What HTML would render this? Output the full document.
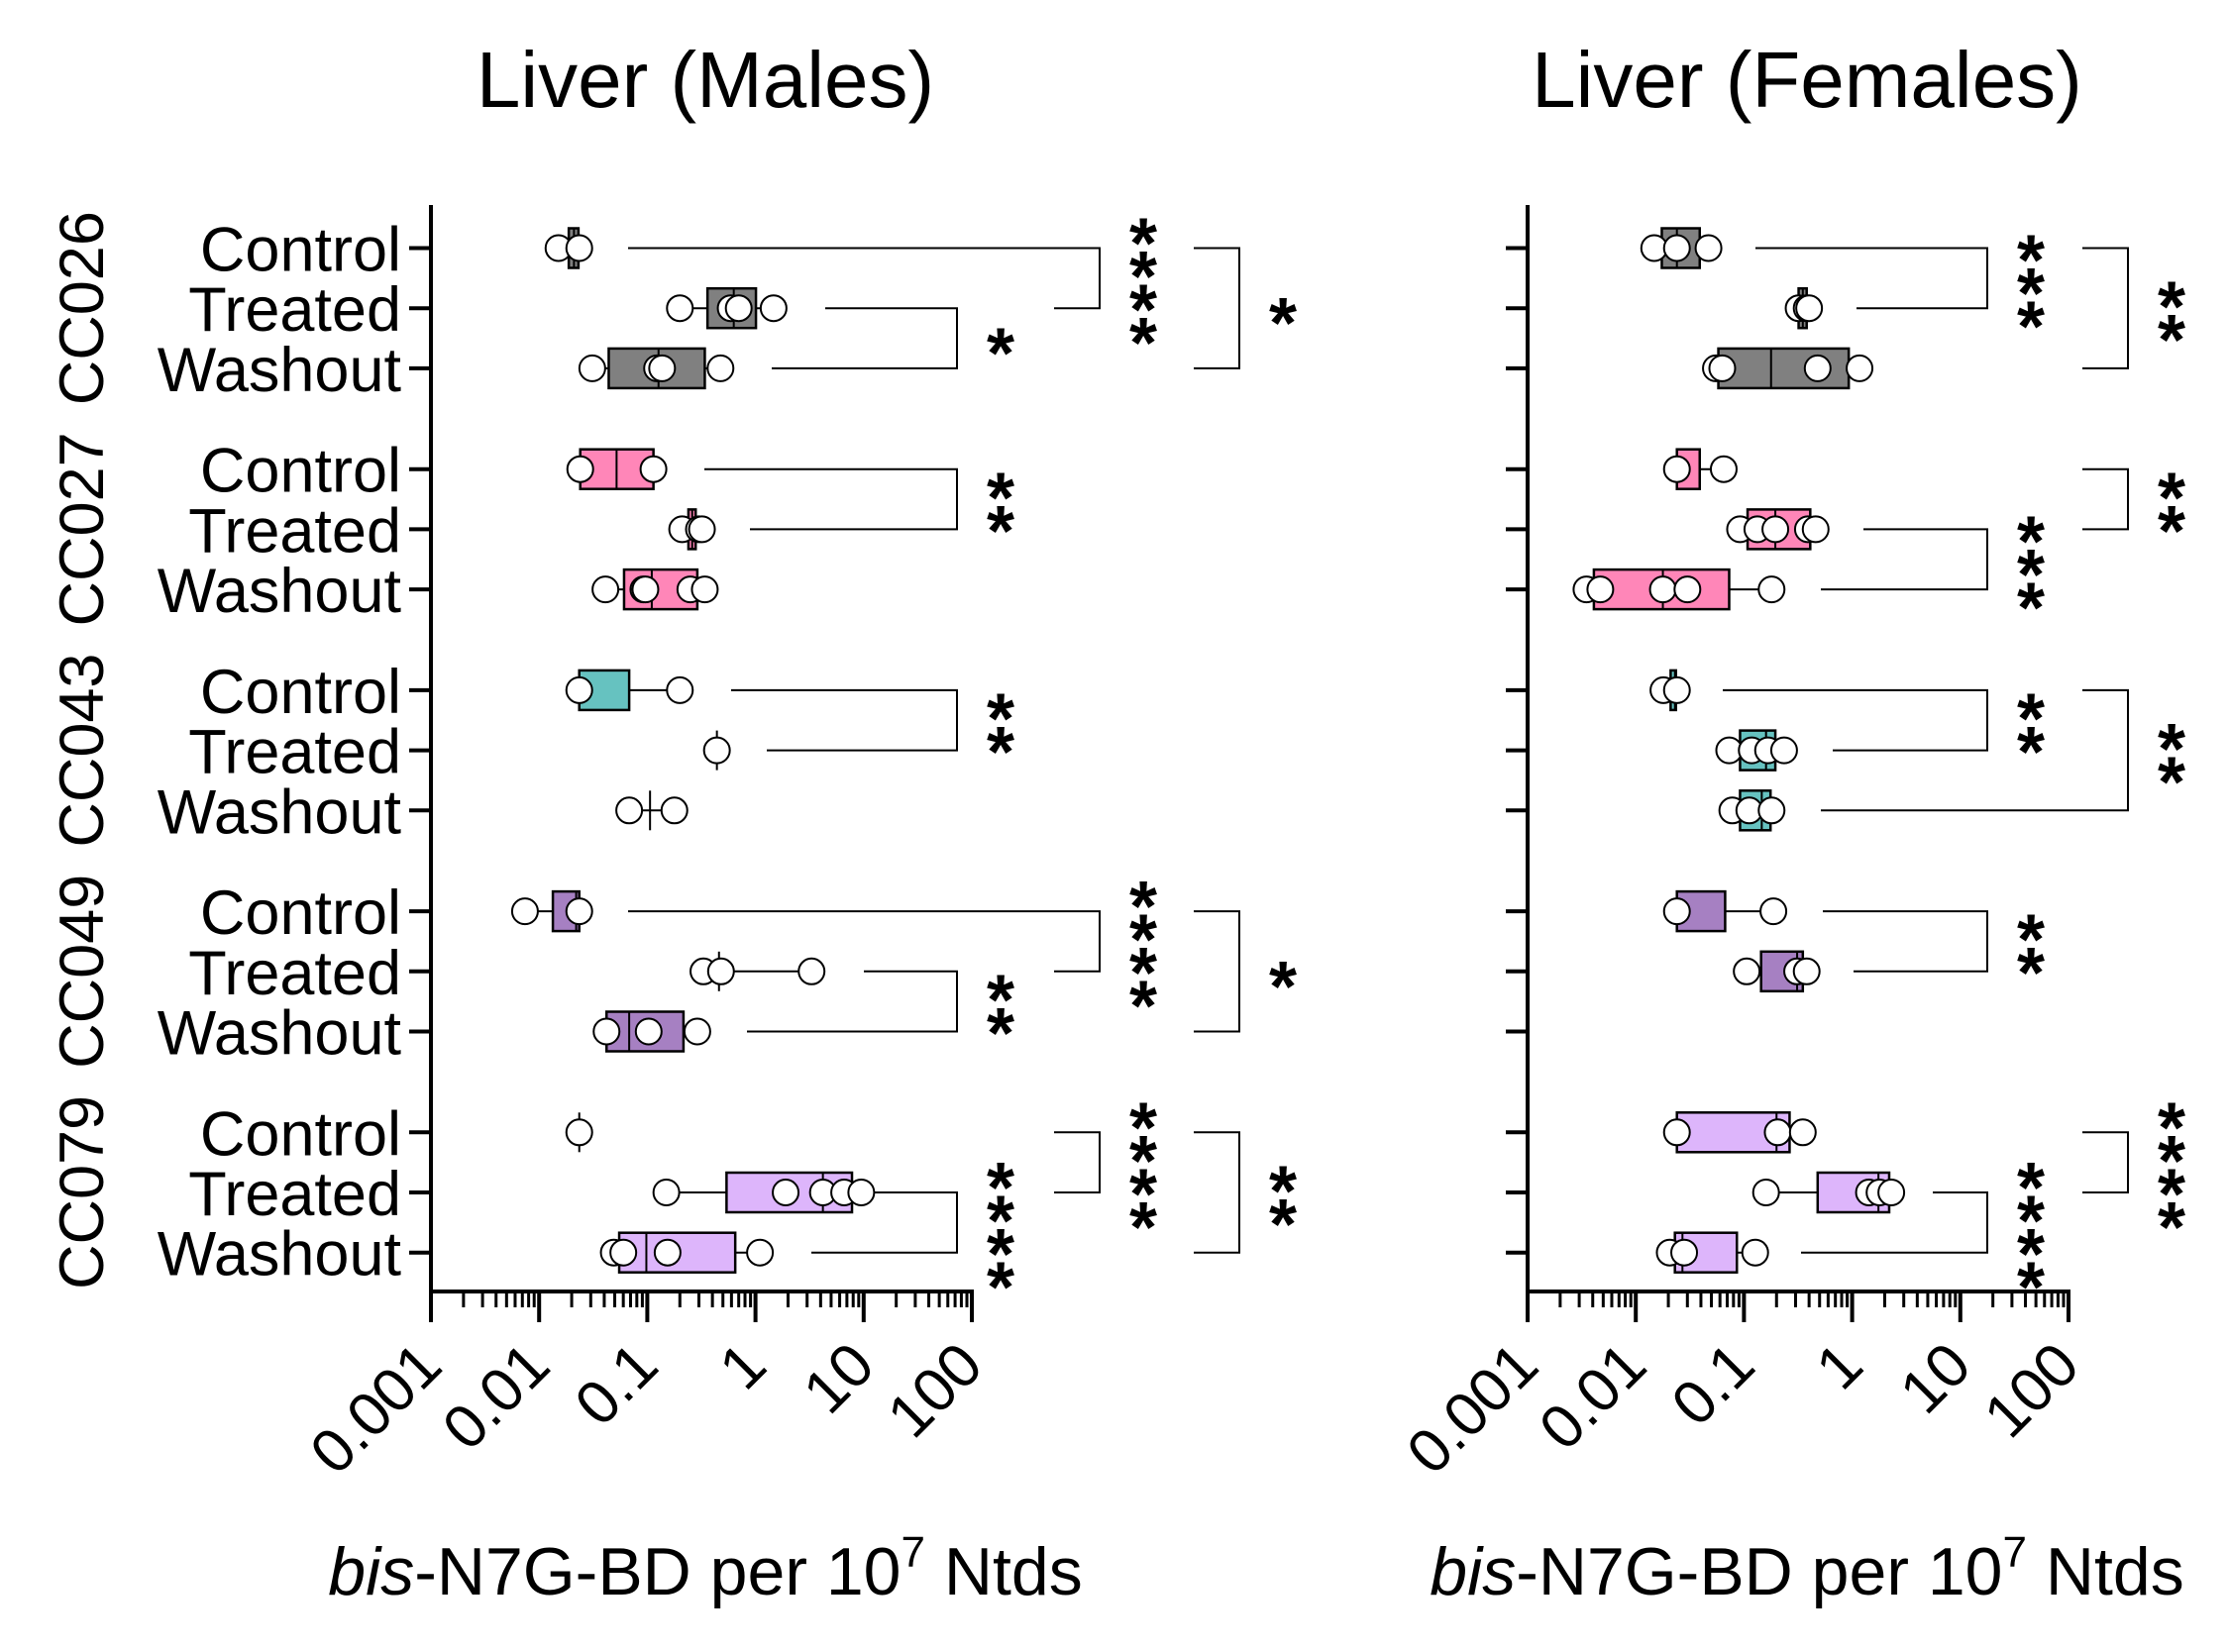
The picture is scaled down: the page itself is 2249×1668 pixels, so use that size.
<!DOCTYPE html>
<html><head><meta charset="utf-8"><style>
html,body{margin:0;padding:0;background:#fff;}
svg{display:block;}
text{font-family:"Liberation Sans",Arial,sans-serif;fill:#000;}
</style></head><body>
<svg id="chart" width="2249" height="1668" viewBox="0 0 2249 1668" xmlns="http://www.w3.org/2000/svg">
<rect width="2249" height="1668" fill="#fff"/>
<text x="712" y="108" font-size="80" text-anchor="middle">Liver (Males)</text>
<text x="1824" y="108" font-size="80" text-anchor="middle">Liver (Females)</text>
<text x="712" y="1610" font-size="68" text-anchor="middle"><tspan font-style="italic">bis</tspan>-N7G-BD per 10<tspan dy="-28" font-size="44">7</tspan><tspan dy="28"> Ntds</tspan></text>
<text x="1824" y="1610" font-size="68" text-anchor="middle"><tspan font-style="italic">bis</tspan>-N7G-BD per 10<tspan dy="-28" font-size="44">7</tspan><tspan dy="28"> Ntds</tspan></text>
<g id="layer"></g>
</svg>
<script>
const strains = ["CC026","CC027","CC043","CC049","CC079"];
const groups = ["Control","Treated","Washout"];
const colors = ["#808080","#ff86b8","#66c2c0","#a680c2","#ddb5fb"];
const tickValues = [0.001,0.01,0.1,1,10,100];
const tickLabels = ["0.001","0.01","0.1","1","10","100"];

const malesPoints = [
 [0.0151,0.0235],[0.2,0.59,0.70,1.47],[0.031,0.123,0.137,0.475],
 [0.024,0.114],[0.21,0.30,0.32],[0.041,0.092,0.096,0.25,0.34],
 [0.0235,0.2],[0.44],[0.068,0.178],
 [0.0074,0.0235],[0.33,0.48,3.3],[0.042,0.103,0.29],
 [0.0235],[0.15,1.9,4.2,6.6,9.5],[0.049,0.06,0.154,1.1]];
const malesQ1 = [0.0188,0.36,0.044, 0.024,0.24,0.061, 0.0235,0.44,0.106, 0.0134,0.46,0.042, 0.0235,0.54,0.055];
const malesMed = [0.021,0.63,0.127, 0.052,0.26,0.11, 0.0235,0.44,0.106, 0.022,0.46,0.068, 0.0235,4.2,0.098];
const malesQ3 = [0.0231,1.01,0.34, 0.114,0.28,0.29, 0.068,0.44,0.106, 0.0235,0.46,0.216, 0.0235,7.8,0.65];

const femalesPoints = [
 [0.0148,0.024,0.047],[0.32,0.38,0.40],[0.055,0.063,0.48,1.17],
 [0.024,0.065],[0.092,0.133,0.195,0.39,0.46],[0.0035,0.0047,0.0178,0.030,0.18],
 [0.018,0.024],[0.073,0.118,0.167,0.235],[0.078,0.112,0.18],
 [0.024,0.187],[0.106,0.31,0.38],[],
 [0.024,0.205,0.35],[0.16,1.43,1.79,2.3],[0.0206,0.028,0.127]];
const femalesQ1 = [0.0174,0.32,0.058, 0.024,0.108,0.0041, 0.021,0.092,0.092, 0.024,0.144,null, 0.024,0.48,0.023];
const femalesMed = [0.024,0.35,0.178, 0.024,0.195,0.0178, 0.023,0.16,0.146, 0.024,0.31,null, 0.2,1.75,0.027];
const femalesQ3 = [0.039,0.38,0.93, 0.039,0.41,0.073, 0.0235,0.195,0.176, 0.067,0.35,null, 0.264,2.2,0.086];

// significance brackets: [strain, rowA, rowB, label]
const malesSig = [[0,0,1,"****"],[0,1,2,"*"],[0,0,2,"*"],[1,0,1,"**"],[2,0,1,"**"],[3,0,1,"****"],[3,1,2,"**"],[3,0,2,"*"],[4,0,1,"****"],[4,1,2,"****"],[4,0,2,"**"]];
const femalesSig = [[0,0,1,"***"],[0,0,2,"**"],[1,0,1,"**"],[1,1,2,"***"],[2,0,1,"**"],[2,0,2,"**"],[3,0,1,"**"],[4,0,1,"****"],[4,1,2,"****"]];
// bracket layout (pixels): vertical x, left end for rowA, left end for rowB
const malesSigLayout = [[1110,634,1064],[966,833,779],[1251,1205,1205],[966,711,757],[966,738,774],[1110,634,1064],[966,872,754],[1251,1205,1205],[1110,1064,1064],[966,882,819],[1251,1205,1205]];
const femalesSigLayout = [[2006,1772,1874],[2148,2102,2102],[2148,2102,2102],[2006,1881,1838],[2006,1739,1850],[2148,2102,1838],[2006,1840,1871],[2148,2102,2102],[2006,1951,1818]];

const NS="http://www.w3.org/2000/svg";
const layer=document.getElementById('layer');
function mk(tag,attrs,parent){const e=document.createElementNS(NS,tag);for(const k in attrs)e.setAttribute(k,attrs[k]);(parent||layer).appendChild(e);return e;}
function rowY(s,g){return 250.5+s*223.2+g*60.7;}

function drawPanel(pfx,x0,pts,q1,med,q3,sig,sigLay,showLabels){
  const xs=v=>x0+(Math.log10(v)+3)*109.2;
  const g=mk('g',{});
  
  
  const ya=mk('line',{x1:x0,y1:207,x2:x0,y2:1306,stroke:'#000','stroke-width':4},g);
  
  
  const xa=mk('line',{x1:x0-2,y1:1304,x2:xs(100)+2,y2:1304,stroke:'#000','stroke-width':4},g);
  
  
  for(let d=0;d<tickValues.length;d++){
    const v=tickValues[d],x=xs(v);
    const t=mk('line',{x1:x,y1:1304,x2:x,y2:1335,stroke:'#000','stroke-width':4},g);
    
    
    const lb=mk('text',{x:x+14,y:1382,'font-size':62,'text-anchor':'end',transform:`rotate(-45 ${x+14} 1382)`},g);
    lb.textContent=tickLabels[d];
    
    
    if(d<tickValues.length-1){for(let m=2;m<=9;m++){const mx=xs(v*m);
      const mt=mk('line',{x1:mx,y1:1304,x2:mx,y2:1320,stroke:'#000','stroke-width':3},g);
      
      }}
  }
  for(let s=0;s<strains.length;s++){
    if(showLabels){
      const cy=rowY(s,1);
      const sl=mk('text',{x:0,y:0,'font-size':63,'text-anchor':'middle',transform:`translate(104 ${cy}) rotate(-90)`},g);
      sl.textContent=strains[s];
      
      
    }
    for(let k=0;k<3;k++){
      const y=rowY(s,k),i=s*3+k;
      const tk=mk('line',{x1:x0-22,y1:y,x2:x0,y2:y,stroke:'#000','stroke-width':4},g);
      
      
      if(showLabels){
        const gl=mk('text',{x:405,y:y+23,'font-size':63,'text-anchor':'end'},g);
        gl.textContent=groups[k];
        
        
      }
      const p=pts[i];
      if(q1[i]!=null && p.length){
        const mn=Math.min(...p),mx=Math.max(...p);
        const w1=mk('line',{x1:xs(mn),y1:y,x2:xs(q1[i]),y2:y,stroke:'#000','stroke-width':2},g);
        
        
        const w2=mk('line',{x1:xs(q3[i]),y1:y,x2:xs(mx),y2:y,stroke:'#000','stroke-width':2},g);
        
        
        if(q3[i]>q1[i]){
          const b=mk('rect',{x:xs(q1[i]),y:y-20,width:xs(q3[i])-xs(q1[i]),height:40,fill:colors[s],stroke:'#000','stroke-width':2.5},g);
          
          
        }
        const md=mk('line',{x1:xs(med[i]),y1:y-20,x2:xs(med[i]),y2:y+20,stroke:'#000','stroke-width':2},g);
        
        
      }
      for(const v of p){
        const c=mk('circle',{cx:xs(v),cy:y,r:13,fill:'#fff',stroke:'#000','stroke-width':2},g);
        
        
      }
    }
  }
  for(let j=0;j<sig.length;j++){
    const [s,a,b,lab]=sig[j],[xv,ea,eb]=sigLay[j];
    const ya_=rowY(s,a),yb=rowY(s,b);
    const br=mk('path',{d:`M${ea} ${ya_}H${xv}V${yb}H${eb}`,fill:'none',stroke:'#000','stroke-width':2},g);
    
    
    const n=lab.length,cy=(ya_+yb)/2,sp=33.5;
    const tg=mk('text',{x:xv+44,y:0,'font-size':72,'font-weight':'bold','text-anchor':'middle'},g);
    
    
    for(let q=0;q<n;q++){
      const ts=mk('tspan',{x:xv+44,y:cy-(n-1)*sp/2+q*sp+40},tg);
      ts.textContent='*';
    }
  }
}
drawPanel('males',435,malesPoints,malesQ1,malesMed,malesQ3,malesSig,malesSigLayout,true);
drawPanel('females',1542,femalesPoints,femalesQ1,femalesMed,femalesQ3,femalesSig,femalesSigLayout,false);
</script>
</body></html>
